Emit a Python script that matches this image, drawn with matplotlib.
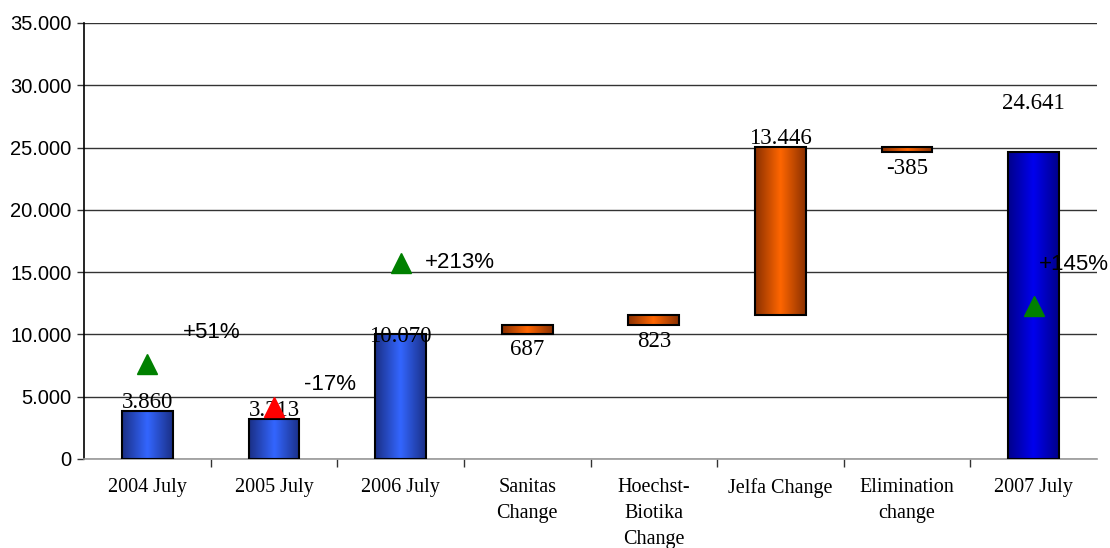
import matplotlib
matplotlib.use("Agg")
import matplotlib.pyplot as plt
import numpy as np
from matplotlib.colors import LinearSegmentedColormap
from matplotlib.ticker import FuncFormatter, FixedLocator

categories = ["2004 July", "2005 July", "2006 July", "Sanitas\nChange",
              "Hoechst-\nBiotika\nChange", "Jelfa Change", "Elimination\nchange", "2007 July"]
values = [3860, 3213, 10070, 687, 823, 13446, -385, 24641]
kinds = ["total", "total", "total", "delta", "delta", "delta", "delta", "total"]
value_labels = ["3.860", "3.213", "10.070", "687", "823", "13.446", "-385", "24.641"]

# growth markers
marker_idx = [0, 1, 2, 7]
marker_vals = [7600, 4150, 15700, 12250]
marker_up = [True, False, True, True]
pct_labels = ["+51%", "-17%", "+213%", "+145%"]
pct_vals = [10150, 6000, 15800, 15600]

fig = plt.figure(figsize=(11.1, 5.48), dpi=100)
ax = fig.add_axes([84/1110, 1-459/548, (1097-84)/1110, (459-23)/548])

x = np.arange(len(categories))
bottoms = []
run = 0
for v, k in zip(values, kinds):
    if k == "total":
        bottoms.append(0)
        run = v
    else:
        if v >= 0:
            bottoms.append(run)
        else:
            bottoms.append(run + v)
        run += v
heights = [abs(v) for v in values]

cm_blue = LinearSegmentedColormap.from_list("b", ["#1a2f85", "#3366ff", "#1a2f85"])
cm_blue2 = LinearSegmentedColormap.from_list("b2", ["#00008a", "#0000ee", "#00008a"])
cm_orange = LinearSegmentedColormap.from_list("o", ["#8a3000", "#ff6600", "#8a3000"])

width = 0.4
bars = ax.bar(x, heights, bottom=bottoms, width=width, facecolor="none",
              edgecolor="black", linewidth=1.5, zorder=3)
grad = np.linspace(0, 1, 256).reshape(1, -1)
for i, b in enumerate(bars):
    if kinds[i] == "delta":
        cmap = cm_orange
    elif i == len(bars) - 1:
        cmap = cm_blue2
    else:
        cmap = cm_blue
    x0, y0 = b.get_x(), b.get_y()
    im = ax.imshow(grad, cmap=cmap, aspect="auto", extent=[x0, x0 + b.get_width(), y0, y0 + b.get_height()],
                   zorder=2.5, interpolation="bicubic")
    im.set_clip_path(b)

ax.set_xlim(-0.5, 7.5)
ax.set_ylim(0, 35000)
ax.set_yticks(np.arange(0, 35001, 5000))
ax.yaxis.set_major_formatter(FuncFormatter(lambda v, p: f"{int(v):,}".replace(",", ".")))
ax.grid(axis="y", color="#333333", linewidth=1.0, zorder=1)
ax.set_axisbelow(True)

ax.set_xticks(x)
ax.set_xticklabels(categories, family="Liberation Serif", fontsize=14.5, linespacing=1.5, va="top")
ax.xaxis.set_minor_locator(FixedLocator(np.arange(0.5, 7.5, 1.0)))
ax.tick_params(axis="x", which="major", length=0, pad=14)
ax.tick_params(axis="x", which="minor", length=6, width=1, color="#333333")
ax.tick_params(axis="y", length=5, width=1, color="#333333", labelsize=14.5, pad=4)
for lab in ax.get_yticklabels():
    lab.set_family("Liberation Sans")

for s in ["top", "right"]:
    ax.spines[s].set_visible(False)
ax.spines["left"].set_color("black")
ax.spines["left"].set_linewidth(1.2)
ax.spines["bottom"].set_color("#999999")
ax.spines["bottom"].set_linewidth(1.2)

FS = 16.5
for i, (b, lab) in enumerate(zip(bars, value_labels)):
    top = b.get_y() + b.get_height()
    bot = b.get_y()
    if i == 7:
        ax.text(x[i], 27700, lab, ha="center", va="bottom", family="Liberation Serif", fontsize=FS, zorder=5)
    elif kinds[i] == "delta" and i in (3, 4, 6):
        ax.text(x[i], bot - 450, lab, ha="center", va="top", family="Liberation Serif", fontsize=FS, zorder=5)
    elif i == 2:
        ax.text(x[i], top - 1100, lab, ha="center", va="bottom", family="Liberation Serif", fontsize=FS, zorder=5)
    else:
        ax.text(x[i], top - 150, lab, ha="center", va="bottom", family="Liberation Serif", fontsize=FS, zorder=5)

pct_dx = [0.51, 0.44, 0.47, 0.32]
for j, i in enumerate(marker_idx):
    ax.plot(x[i], marker_vals[j], marker="^", markersize=14.5,
            color="#008000" if marker_up[j] else "#ff0000", linestyle="none", zorder=6, clip_on=False)
    ax.text(x[i] + pct_dx[j], pct_vals[j], pct_labels[j], ha="center", va="center",
            family="Liberation Sans", fontsize=16, zorder=5, clip_on=False)

fig.savefig("out.png", dpi=100)
